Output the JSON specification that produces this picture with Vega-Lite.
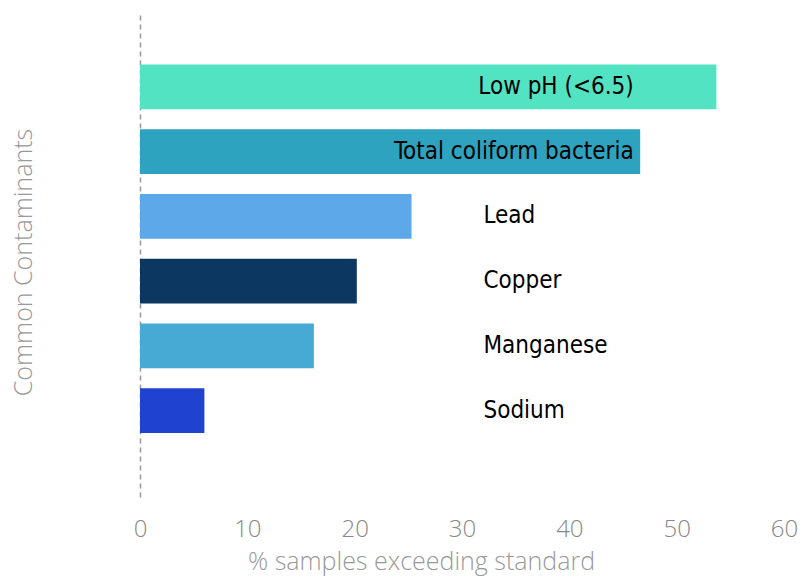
{
  "$schema": "https://vega.github.io/schema/vega-lite/v6.json",
  "width": 644,
  "height": 485,
  "autosize": "none",
  "padding": {"left": 140, "top": 15, "right": 27, "bottom": 78},
  "background": "white",
  "config": {"view": {"stroke": null}},
  "data": {
    "values": [
      {"contaminant": "Low pH (<6.5)", "pct": 53.7, "color": "#52E3C2"},
      {"contaminant": "Total coliform bacteria", "pct": 46.6, "color": "#2EA3BF"},
      {"contaminant": "Lead", "pct": 25.3, "color": "#5CA8E8"},
      {"contaminant": "Copper", "pct": 20.2, "color": "#0B3761"},
      {"contaminant": "Manganese", "pct": 16.2, "color": "#46AAD4"},
      {"contaminant": "Sodium", "pct": 6.0, "color": "#2043CF"}
    ]
  },
  "encoding": {
    "y": {
      "field": "contaminant",
      "type": "nominal",
      "sort": null,
      "scale": {"paddingInner": 0.31, "paddingOuter": 0.9, "align": 0.425},
      "axis": {
        "title": "Common Contaminants",
        "labels": false,
        "ticks": false,
        "domain": true,
        "domainColor": "#999999",
        "domainDash": [5, 4],
        "domainWidth": 1.5,
        "titleFont": "Open Sans",
        "titleFontWeight": 300,
        "titleFontSize": 25,
        "titleColor": "#999999",
        "titleX": -117,
        "titleY": 247,
        "titleAngle": -90,
        "titleAlign": "center",
        "titleBaseline": "middle"
      }
    }
  },
  "layer": [
    {
      "mark": {"type": "bar"},
      "encoding": {
        "x": {
          "field": "pct",
          "type": "quantitative",
          "scale": {"domain": [0, 60], "nice": false},
          "axis": {
            "title": "% samples exceeding standard",
            "values": [0, 10, 20, 30, 40, 50, 60],
            "grid": false,
            "ticks": false,
            "domain": false,
            "labelFont": "Open Sans",
            "labelFontWeight": 300,
            "labelFontSize": 24,
            "labelColor": "#888888",
            "labelPadding": 17,
            "labelFlush": false,
            "titleFont": "Open Sans",
            "titleFontWeight": 300,
            "titleFontSize": 25,
            "titleColor": "#999999",
            "titleX": 281,
            "titleY": 61,
            "titleAlign": "center",
            "titleBaseline": "middle"
          }
        },
        "color": {"field": "color", "type": "nominal", "scale": null, "legend": null}
      }
    },
    {
      "transform": [{"filter": "datum.pct > 40"}],
      "mark": {"type": "text", "align": "right", "baseline": "middle", "font": "DejaVu Sans Condensed", "fontSize": 24, "color": "black"},
      "encoding": {
        "x": {"datum": 46},
        "text": {"field": "contaminant"}
      }
    },
    {
      "transform": [{"filter": "datum.pct <= 40"}],
      "mark": {"type": "text", "align": "left", "baseline": "middle", "font": "DejaVu Sans Condensed", "fontSize": 24, "color": "black"},
      "encoding": {
        "x": {"datum": 32},
        "text": {"field": "contaminant"}
      }
    }
  ]
}
